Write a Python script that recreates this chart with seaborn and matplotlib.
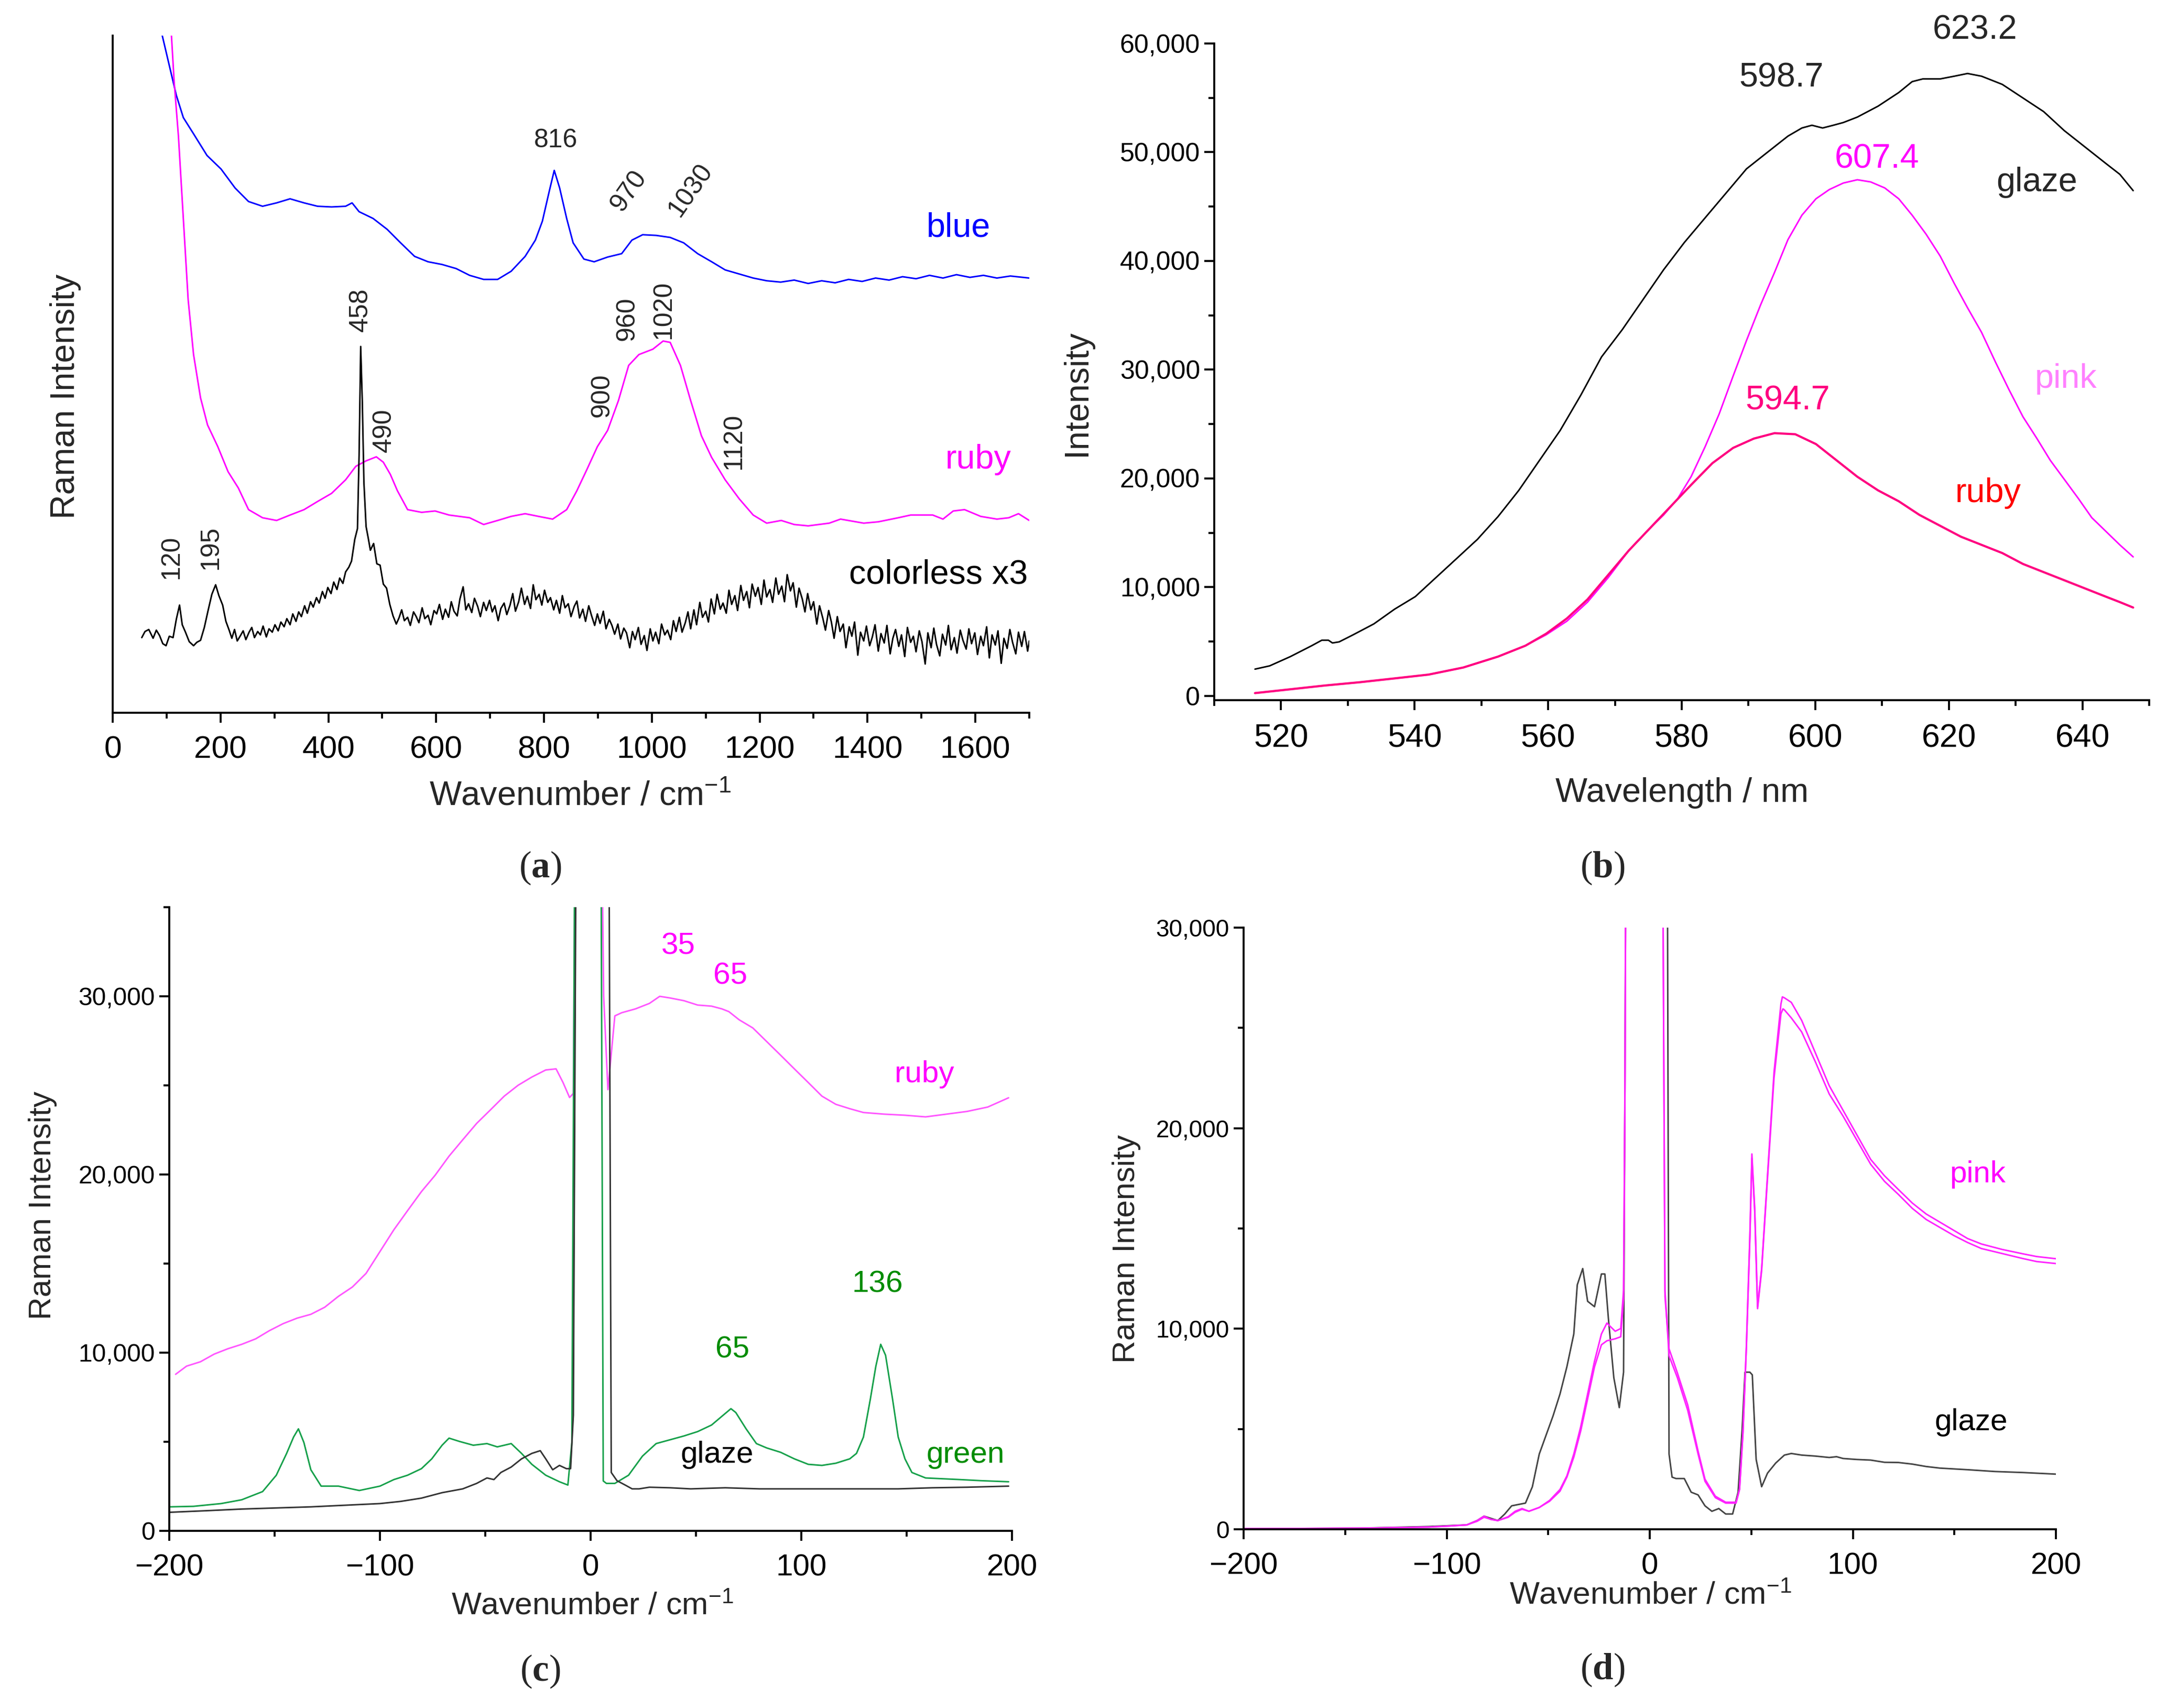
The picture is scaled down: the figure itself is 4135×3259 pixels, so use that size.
import numpy as np
import matplotlib
matplotlib.use("Agg")
import matplotlib.pyplot as plt
from matplotlib.ticker import MultipleLocator, FuncFormatter
import seaborn as sns

sns.set_theme(style="ticks")
plt.rcParams['font.family'] = ['Liberation Sans', 'DejaVu Sans']
plt.rcParams['mathtext.fontset'] = 'custom'
plt.rcParams['mathtext.rm'] = 'Liberation Sans'
plt.rcParams['mathtext.it'] = 'Liberation Sans:italic'
plt.rcParams['mathtext.bf'] = 'Liberation Serif:bold'

# ---------------- data: panel (a) Raman spectra (arbitrary units) ----------------
a_blue = [(86, 104), (92, 100), (105, 95.6), (118, 91.2), (131, 87.9), (150, 85.5), (175, 82.3),
          (201, 80.3), (227, 77.5), (252, 75.5), (278, 74.8), (304, 75.3), (329, 75.9), (355, 75.3),
          (380, 74.8), (406, 74.7), (432, 74.8), (444, 75.3), (457, 74.0), (483, 73.0), (509, 71.4),
          (534, 69.4), (560, 67.4), (585, 66.6), (611, 66.2), (637, 65.6), (662, 64.6), (688, 64.0),
          (714, 64.0), (739, 65.2), (765, 67.4), (784, 69.8), (797, 72.6), (810, 77.1), (819, 80.1),
          (829, 77.5), (842, 73.0), (854, 69.4), (874, 67.0), (893, 66.6), (918, 67.3), (944, 67.8),
          (963, 69.8), (983, 70.6), (1008, 70.5), (1034, 70.2), (1059, 69.4), (1085, 67.8),
          (1111, 66.6), (1136, 65.4), (1162, 64.8), (1188, 64.2), (1213, 63.8), (1239, 63.6),
          (1264, 63.9), (1290, 63.4), (1315, 63.8), (1340, 63.5), (1365, 64.0), (1390, 63.7),
          (1415, 64.2), (1440, 63.9), (1465, 64.4), (1490, 64.1), (1515, 64.6), (1540, 64.2),
          (1565, 64.7), (1590, 64.3), (1615, 64.6), (1640, 64.2), (1665, 64.5), (1700, 64.2)]

a_ruby = [(107, 104), (109, 100), (114, 93.2), (122, 85.1), (131, 73.0), (140, 61.0), (150, 52.9),
          (163, 46.5), (176, 42.5), (195, 39.3), (214, 35.6), (233, 33.2), (252, 30.0), (278, 28.8),
          (304, 28.4), (329, 29.2), (355, 30.0), (380, 31.2), (406, 32.4), (432, 34.4), (451, 36.4),
          (470, 37.2), (489, 37.8), (502, 37.0), (515, 35.2), (528, 32.8), (547, 30.0), (573, 29.6),
          (598, 29.8), (624, 29.2), (662, 28.8), (688, 27.8), (714, 28.4), (739, 29.0), (765, 29.4),
          (790, 29.0), (816, 28.6), (842, 30.0), (861, 32.8), (880, 36.0), (899, 39.3), (918, 41.7),
          (938, 46.1), (957, 51.3), (976, 52.9), (1002, 53.7), (1021, 54.9), (1034, 54.7),
          (1053, 51.3), (1072, 46.1), (1092, 40.9), (1111, 37.7), (1136, 34.4), (1162, 31.6),
          (1188, 29.2), (1213, 28.0), (1240, 28.4), (1264, 27.8), (1290, 27.6), (1329, 28.0),
          (1350, 28.6), (1393, 28.0), (1420, 28.2), (1457, 28.8), (1480, 29.2), (1521, 29.2),
          (1540, 28.6), (1559, 29.8), (1580, 30.0), (1610, 29.0), (1640, 28.6), (1662, 28.8),
          (1680, 29.4), (1700, 28.4)]

a_colorless = [(54, 11.1), (60, 12.0), (67, 12.3), (75, 11.0), (81, 12.2), (87, 11.4), (93, 10.2),
               (99, 9.9), (105, 11.3), (112, 11.1), (118, 13.8), (124, 15.9), (129, 13.0), (135, 11.9),
               (142, 10.5), (150, 9.9), (156, 10.4), (163, 10.7), (170, 12.6), (177, 15.1), (184, 17.5),
               (191, 18.9), (197, 17.3), (204, 15.9), (210, 13.5), (216, 12.2), (221, 11.0), (226, 12.3),
               (231, 10.6), (237, 11.4), (242, 12.1), (247, 10.8), (253, 11.9), (258, 12.6), (263, 11.1),
               (269, 12.0), (274, 11.5), (279, 12.8), (285, 11.2), (290, 12.4), (296, 11.9), (301, 13.0),
               (307, 12.1), (312, 13.4), (318, 12.7), (323, 13.9), (329, 13.0), (334, 14.6), (340, 13.5),
               (345, 14.9), (350, 14.2), (356, 15.8), (361, 14.7), (367, 16.4), (372, 15.6), (378, 17.0),
               (383, 16.2), (389, 17.9), (394, 16.9), (399, 18.5), (405, 17.6), (410, 19.3), (416, 18.2),
               (421, 19.9), (427, 19.1), (432, 20.8), (438, 21.5), (443, 22.4), (449, 25.6), (454, 27.2),
               (457, 38.0), (460, 54.1), (463, 46.0), (466, 34.0), (470, 27.5), (474, 25.8), (478, 24.0),
               (484, 25.0), (490, 22.0), (496, 21.8), (502, 19.0), (508, 18.4), (514, 16.0), (520, 14.3),
               (526, 13.1), (531, 14.0), (536, 15.2), (541, 13.6), (547, 14.1), (552, 12.9), (558, 14.9),
               (563, 14.2), (568, 13.3), (574, 15.5), (579, 13.9), (585, 14.4), (590, 13.0), (596, 15.1),
               (601, 14.6), (606, 16.0), (612, 13.8), (617, 15.3), (623, 14.1), (628, 16.4), (633, 15.0),
               (639, 14.3), (644, 16.8), (650, 18.6), (655, 15.2), (660, 16.1), (666, 14.8), (671, 16.9),
               (677, 15.7), (682, 14.2), (688, 16.3), (693, 15.1), (699, 16.6), (704, 14.9), (709, 15.8),
               (715, 13.6), (720, 15.4), (726, 16.2), (731, 14.5), (737, 15.9), (742, 17.6), (747, 15.0),
               (753, 16.4), (758, 18.4), (764, 16.0), (769, 17.2), (775, 15.4), (780, 18.9), (785, 16.7),
               (791, 17.5), (796, 15.9), (801, 18.1), (807, 16.3), (812, 17.0), (818, 15.2), (823, 16.6),
               (829, 14.7), (834, 17.3), (839, 15.5), (845, 16.1), (850, 14.2), (856, 15.7), (861, 16.5),
               (866, 14.0), (872, 15.3), (877, 13.5), (883, 15.8), (888, 14.4), (894, 12.9), (899, 14.6),
               (904, 13.2), (910, 15.0), (915, 12.4), (921, 13.8), (926, 12.9), (931, 11.6), (937, 13.1),
               (942, 10.9), (948, 12.5), (953, 11.8), (959, 9.6), (964, 12.0), (969, 10.8), (975, 12.6),
               (980, 10.1), (986, 11.4), (991, 9.2), (997, 12.4), (1002, 10.6), (1007, 11.9),
               (1013, 10.2), (1018, 13.1), (1024, 11.5), (1029, 12.2), (1035, 10.8), (1040, 13.6),
               (1045, 12.0), (1051, 14.1), (1056, 11.9), (1062, 13.3), (1067, 14.9), (1072, 12.4),
               (1078, 15.2), (1083, 13.0), (1089, 16.3), (1094, 14.1), (1100, 15.0), (1105, 13.4),
               (1110, 16.8), (1116, 14.6), (1121, 17.5), (1127, 15.3), (1132, 16.2), (1138, 14.7),
               (1143, 18.1), (1148, 16.0), (1154, 17.3), (1159, 15.1), (1165, 18.8), (1170, 16.6),
               (1176, 17.9), (1181, 15.5), (1186, 19.0), (1192, 17.2), (1197, 18.5), (1203, 16.0),
               (1208, 19.6), (1213, 17.1), (1219, 18.2), (1224, 16.3), (1230, 19.9), (1235, 17.5),
               (1241, 18.7), (1246, 16.4), (1251, 20.4), (1257, 18.0), (1262, 19.2), (1268, 15.6),
               (1273, 18.4), (1279, 16.8), (1284, 14.9), (1289, 17.6), (1295, 15.2), (1300, 16.4),
               (1306, 13.1), (1311, 15.8), (1317, 14.0), (1322, 12.2), (1328, 15.1), (1333, 13.4),
               (1338, 11.0), (1344, 14.2), (1349, 12.0), (1355, 13.1), (1360, 9.6), (1366, 12.7),
               (1371, 11.3), (1376, 13.4), (1382, 8.5), (1387, 11.9), (1393, 10.6), (1398, 12.8),
               (1404, 9.9), (1409, 11.2), (1414, 13.0), (1420, 9.1), (1425, 11.7), (1431, 10.3),
               (1436, 12.9), (1442, 8.7), (1447, 11.0), (1452, 12.3), (1458, 9.8), (1463, 11.5),
               (1469, 8.3), (1474, 12.6), (1480, 10.4), (1485, 11.3), (1490, 9.0), (1496, 12.1),
               (1501, 10.5), (1507, 7.2), (1512, 11.8), (1518, 9.6), (1523, 12.5), (1528, 10.1),
               (1534, 8.4), (1539, 11.6), (1545, 10.0), (1550, 12.9), (1555, 9.3), (1561, 11.1),
               (1566, 8.8), (1572, 12.2), (1577, 10.7), (1583, 9.4), (1588, 12.4), (1593, 10.2),
               (1599, 11.8), (1604, 8.6), (1610, 11.3), (1615, 9.9), (1621, 12.7), (1626, 8.1),
               (1631, 11.5), (1637, 10.0), (1642, 12.1), (1648, 7.3), (1653, 11.0), (1659, 9.5),
               (1664, 12.3), (1669, 10.4), (1675, 8.7), (1680, 11.9), (1686, 9.8), (1691, 12.0),
               (1697, 9.1), (1700, 10.6)]

# ---------------- data: panel (b) luminescence ----------------
b_glaze = [(516.1, 2456), (518.3, 2757), (521.4, 3609), (524.6, 4612), (526.1, 5113), (527.1, 5113),
           (527.7, 4862), (528.7, 4962), (530.8, 5614), (533.9, 6617), (537.0, 7970), (540.1, 9123),
           (543.2, 10877), (546.3, 12632), (549.4, 14386), (552.5, 16491), (555.6, 18897),
           (558.7, 21654), (561.8, 24411), (564.9, 27669), (568.0, 31178), (571.1, 33684),
           (574.2, 36441), (577.3, 39198), (580.4, 41704), (583.5, 43960), (586.6, 46215),
           (589.7, 48471), (592.8, 49975), (595.9, 51478), (598.0, 52230), (599.5, 52481),
           (601.1, 52230), (602.7, 52481), (604.2, 52732), (606.3, 53233), (609.4, 54235),
           (612.5, 55488), (614.5, 56491), (616.1, 56742), (618.7, 56742), (620.8, 56992),
           (622.8, 57243), (624.9, 56992), (628.0, 56240), (631.1, 54987), (634.2, 53734),
           (637.3, 51980), (640.4, 50476), (643.5, 48972), (645.6, 47970), (647.6, 46466)]

b_pink = [(516.1, 251), (521.4, 602), (526.6, 952), (531.8, 1253), (537.0, 1604), (542.1, 1955),
          (547.3, 2607), (552.5, 3609), (556.6, 4612), (559.7, 5614), (562.8, 6867), (565.9, 8622),
          (569.0, 10877), (572.1, 13383), (575.2, 15388), (577.3, 16641), (579.4, 18145),
          (581.4, 20150), (583.5, 22907), (585.6, 25915), (587.7, 29423), (589.7, 32682),
          (591.8, 35940), (593.9, 38947), (595.9, 41955), (598.0, 44210), (600.1, 45714),
          (602.1, 46566), (604.2, 47168), (606.3, 47468), (608.3, 47268), (610.4, 46717),
          (612.5, 45714), (614.5, 44210), (616.6, 42456), (618.7, 40451), (620.8, 37945),
          (622.8, 35689), (624.9, 33433), (627.0, 30677), (629.0, 28170), (631.1, 25664),
          (633.2, 23659), (635.2, 21654), (637.3, 19900), (639.4, 18145), (641.4, 16391),
          (643.5, 15138), (645.6, 13885), (647.6, 12782)]

b_ruby = [(516.1, 251), (521.4, 602), (526.6, 952), (531.8, 1253), (537.0, 1604), (542.1, 1955),
          (547.3, 2607), (552.5, 3609), (556.6, 4612), (559.7, 5714), (562.8, 7118), (565.9, 8872),
          (569.0, 11128), (572.1, 13383), (575.2, 15388), (578.3, 17393), (581.4, 19398),
          (584.6, 21403), (587.7, 22807), (590.8, 23659), (593.9, 24160), (597.0, 24060),
          (600.1, 23158), (603.2, 21654), (606.3, 20150), (609.4, 18897), (612.5, 17895),
          (615.6, 16641), (618.7, 15639), (621.8, 14637), (624.9, 13885), (628.0, 13133),
          (631.1, 12130), (634.2, 11378), (637.3, 10627), (640.4, 9875), (643.5, 9123),
          (645.6, 8622), (647.6, 8120)]

# ---------------- data: panel (c) low-wavenumber Raman ----------------
c_ruby = [(-197, 8785), (-191.8, 9244), (-185.2, 9489), (-178.7, 9918), (-172.1, 10224),
          (-165.6, 10469), (-159, 10775), (-152.5, 11234), (-145.9, 11632), (-139.3, 11938),
          (-132.8, 12152), (-126.2, 12550), (-119.7, 13162), (-113.1, 13683), (-106.6, 14448),
          (-100, 15672), (-93.4, 16897), (-86.9, 17968), (-80.3, 19039), (-73.8, 19958),
          (-67.2, 21029), (-60.7, 21947), (-54.1, 22866), (-47.5, 23631), (-41, 24396),
          (-34.4, 25008), (-27.9, 25468), (-21.3, 25865), (-16.4, 25927), (-13.1, 25161),
          (-10.0, 24320), (-8.2, 24549), (-7.3, 40000), (5.2, 40000), (6.2, 30000), (8.2, 24760),
          (9.5, 26386), (11.5, 28900), (14.8, 29080), (21.3, 29294), (27.9, 29600), (32.8, 29998),
          (37.7, 29906), (44.3, 29753), (50.8, 29508), (57.4, 29447), (62.3, 29294), (65.6, 29141),
          (70.5, 28682), (77, 28222), (83.6, 27457), (90.2, 26692), (96.7, 25927), (103.3, 25161),
          (109.8, 24396), (116.4, 23937), (123, 23692), (129.5, 23478), (139.3, 23386),
          (149.2, 23325), (159, 23233), (168.9, 23386), (178.7, 23539), (188.5, 23784),
          (198.4, 24304)]

c_green = [(-200, 1347), (-188.5, 1377), (-175.4, 1531), (-165.6, 1745), (-155.7, 2204),
           (-149.2, 3122), (-144.3, 4347), (-141, 5265), (-138.7, 5724), (-136.1, 4959),
           (-132.8, 3428), (-127.9, 2510), (-119.7, 2510), (-109.8, 2265), (-100, 2510),
           (-93.4, 2877), (-86.9, 3122), (-80.3, 3490), (-75.4, 4041), (-70.5, 4806), (-67.2, 5204),
           (-62.3, 5020), (-55.7, 4806), (-49.2, 4898), (-44.3, 4714), (-37.7, 4898), (-32.8, 4347),
           (-27.9, 3734), (-21.3, 3122), (-14.8, 2755), (-10.8, 2571), (-8.9, 4959), (-7.5, 40000),
           (4.9, 40000), (6.0, 2800), (7.5, 2663), (11.5, 2663), (18, 3122), (24.6, 4194),
           (31.1, 4898), (37.7, 5112), (44.3, 5326), (50.8, 5571), (57.4, 5938), (62.3, 6428),
           (66.6, 6857), (68.9, 6642), (73.8, 5724), (78.7, 4898), (83.6, 4653), (90.2, 4408),
           (96.7, 4041), (103.3, 3734), (109.8, 3673), (116.4, 3796), (123, 4041), (126.2, 4347),
           (129.5, 5265), (132.8, 7408), (135.4, 9244), (137.7, 10469), (140, 9856), (143.3, 7408),
           (146, 5265), (149.2, 4041), (152.5, 3275), (159, 2969), (175.4, 2877), (185.2, 2816),
           (198.4, 2755)]

c_glaze = [(-200, 1041), (-182, 1133), (-165.6, 1224), (-149.2, 1286), (-132.8, 1347),
           (-116.4, 1439), (-100, 1531), (-90.2, 1653), (-80.3, 1837), (-70.5, 2143), (-60.7, 2357),
           (-54.1, 2663), (-49.2, 2969), (-45.9, 2877), (-42.6, 3275), (-37.7, 3581), (-32.8, 4041),
           (-27.9, 4347), (-23.9, 4500), (-21.3, 4041), (-18, 3428), (-14.8, 3673), (-11.5, 3490),
           (-9.5, 3490), (-8.2, 6489), (-6.9, 40000), (8.7, 40000), (9.8, 3275), (12.5, 2816),
           (16.4, 2571), (19.7, 2357), (23, 2357), (27.9, 2449), (37.7, 2418), (47.5, 2357),
           (63.9, 2418), (80.3, 2357), (96.7, 2357), (113.1, 2357), (129.5, 2357), (145.9, 2357),
           (162.3, 2418), (178.7, 2449), (198.4, 2510)]

# ---------------- data: panel (d) low-wavenumber Raman ----------------
d_pink1 = [(-200, 27), (-142.9, 54), (-108.8, 109), (-98.6, 163), (-90.1, 218), (-85, 435),
           (-81.6, 653), (-78.2, 490), (-74.8, 435), (-69.7, 626), (-66.3, 898), (-62.9, 1034),
           (-59.5, 898), (-54.4, 1088), (-49.3, 1442), (-44.2, 1986), (-40.8, 2666), (-37.4, 3754),
           (-34, 5114), (-30.6, 6746), (-27.2, 8378), (-23.8, 9738), (-21.1, 10282), (-17, 9874),
           (-14.3, 10010), (-12.9, 11914), (-12.2, 22000), (-11.6, 40000), (6.1, 40000),
           (7.5, 11914), (9.5, 8650), (13.6, 7562), (18.7, 5930), (23.8, 3754), (27.2, 2394),
           (32.3, 1578), (37.4, 1306), (42.5, 1306), (44.2, 1986), (45.9, 4842), (47.6, 9194),
           (49.3, 14634), (50.3, 18714), (51.7, 16000), (53.1, 11098), (55.1, 13002), (57.8, 17354),
           (61.2, 22794), (64.6, 26194), (65.3, 26547), (66.3, 26500), (69.7, 26275), (74.8, 25378),
           (81.6, 23746), (88.4, 22114), (95.2, 20890), (102, 19666), (108.8, 18442),
           (115.6, 17626), (122.4, 16946), (129.3, 16266), (136.1, 15722), (142.9, 15314),
           (149.7, 14906), (156.5, 14498), (163.3, 14226), (173.5, 13954), (183.7, 13736),
           (190.5, 13600), (200, 13491)]

d_pink2 = [(-200, 27), (-142.9, 54), (-108.8, 109), (-98.6, 163), (-90.1, 218), (-85, 400),
           (-81.6, 600), (-78.2, 500), (-74.8, 435), (-69.7, 600), (-66.3, 850), (-62.9, 1000),
           (-59.5, 900), (-54.4, 1088), (-49.3, 1400), (-44.2, 1900), (-40.8, 2600), (-37.4, 3600),
           (-34, 4900), (-30.6, 6500), (-27.2, 8100), (-23.8, 9200), (-21.1, 9400), (-17, 9500),
           (-14.3, 9600), (-12.9, 11500), (-12.2, 22000), (-11.6, 40000), (6.1, 40000),
           (7.5, 11600), (9.5, 9000), (13.6, 7800), (18.7, 6200), (23.8, 3900), (27.2, 2500),
           (32.3, 1650), (37.4, 1350), (42.5, 1350), (44.2, 2000), (45.9, 4800), (47.6, 9100),
           (49.3, 14500), (50.3, 18500), (51.7, 15800), (53.1, 11000), (55.1, 12900), (57.8, 17200),
           (61.2, 22500), (64.6, 25700), (65.6, 25950), (66.3, 25900), (69.7, 25500), (74.8, 24800),
           (81.6, 23300), (88.4, 21700), (95.2, 20600), (102, 19400), (108.8, 18200),
           (115.6, 17350), (122.4, 16700), (129.3, 16000), (136.1, 15450), (142.9, 15050),
           (149.7, 14650), (156.5, 14300), (163.3, 14000), (173.5, 13750), (183.7, 13500),
           (190.5, 13350), (200, 13250)]

d_glaze = [(-200, 27), (-142.9, 54), (-108.8, 136), (-90.1, 218), (-85, 435), (-81.6, 653),
           (-78.2, 544), (-74.8, 435), (-71.4, 762), (-68, 1170), (-61.2, 1306), (-57.8, 2122),
           (-54.4, 3754), (-51, 4706), (-47.6, 5658), (-44.2, 6746), (-40.8, 8106), (-37.4, 9738),
           (-35.7, 12186), (-33, 13002), (-30.6, 11370), (-27.2, 11098), (-23.8, 12730),
           (-22.1, 12730), (-20.4, 10554), (-17.7, 7562), (-15, 6066), (-12.9, 7834),
           (-12.2, 22794), (-11.6, 40000), (8.5, 40000), (9.5, 3754), (11, 2600), (12.9, 2530),
           (17, 2530), (20.4, 1850), (23.8, 1714), (27.2, 1170), (30.6, 898), (34, 1034),
           (37.4, 762), (40.8, 762), (43.5, 1850), (45.5, 5000), (46.9, 7834), (49.3, 7834),
           (50.5, 7700), (52.4, 3482), (55.1, 2122), (58, 2800), (62, 3300), (66.3, 3700),
           (69.7, 3780), (74.8, 3700), (81.6, 3650), (88.4, 3580), (92, 3620), (95.2, 3530),
           (102, 3480), (108.8, 3450), (115.6, 3340), (122.4, 3330), (129.3, 3250), (136.1, 3130),
           (142.9, 3050), (156.5, 2970), (170, 2880), (183.7, 2830), (200, 2750)]

# tick values
a_xticks = [0, 200, 400, 600, 800, 1000, 1200, 1400, 1600]
b_xticks = [520, 540, 560, 580, 600, 620, 640]
b_yticks = [0, 10000, 20000, 30000, 40000, 50000, 60000]
c_xticks = [-200, -100, 0, 100, 200]
c_yticks = [0, 10000, 20000, 30000]
d_yticks = [0, 10000, 20000, 30000]

# ---------------- figure ----------------
W, H = 4135, 3259
fig = plt.figure(figsize=(W / 300, H / 300), dpi=300)
fig.patch.set_facecolor('white')


def box(l, r, t, b):
    return [l / W, 1 - b / H, (r - l) / W, (b - t) / H]


def draw(ax, data, color, lw=0.7):
    x = np.array([p[0] for p in data], dtype=float)
    y = np.array([p[1] for p in data], dtype=float)
    sns.lineplot(x=x, y=y, ax=ax, color=color, linewidth=lw, estimator=None,
                 sort=False, legend=False)


def style(ax, xsize, ysize):
    for s in ['top', 'right']:
        ax.spines[s].set_visible(False)
    for s in ['left', 'bottom']:
        ax.spines[s].set_linewidth(0.9)
        ax.spines[s].set_color('black')
    ax.tick_params(which='major', direction='out', length=4.5, width=0.9, color='black',
                   labelcolor='black')
    ax.tick_params(which='minor', direction='out', length=2.6, width=0.9, color='black')
    ax.tick_params(axis='x', which='major', labelsize=xsize, pad=6)
    ax.tick_params(axis='y', which='major', labelsize=ysize, pad=2)
    ax.set_facecolor('white')
    ax.grid(False)


comma = FuncFormatter(lambda v, p: f"{int(round(v)):,}")

# ---- (a) ----
axa = fig.add_axes(box(215, 1964, 68, 1360))
draw(axa, a_blue, '#0000FF')
draw(axa, a_ruby, '#FF00FF')
draw(axa, a_colorless, 'black')
axa.set_xlim(0, 1700)
axa.set_ylim(0, 100)
style(axa, 14.5, 12)
axa.set_xticks(a_xticks)
axa.xaxis.set_minor_locator(MultipleLocator(100))
axa.set_yticks([])
axa.set_xlabel(r"Wavenumber / cm$^{-1}$", fontsize=15.5, va='center')
axa.xaxis.set_label_coords(0.51, -0.124)
axa.set_ylabel("Raman Intensity", fontsize=15.5, va='center')
axa.yaxis.set_label_coords(-0.0515, 0.467)
pk = 12
axa.text(822, 84.5, "816", fontsize=pk, ha='center', va='center')
axa.text(957, 77.1, "970", fontsize=pk, ha='center', va='center', rotation=55)
axa.text(1072, 77.2, "1030", fontsize=pk, ha='center', va='center', rotation=55)
axa.text(1569, 71.6, "blue", fontsize=15.5, color='#0000FF', ha='center', va='center')
axa.text(460, 59.5, "458", fontsize=pk, ha='center', va='center', rotation=90)
axa.text(503, 41.7, "490", fontsize=pk, ha='center', va='center', rotation=90)
axa.text(907, 46.9, "900", fontsize=pk, ha='center', va='center', rotation=90)
axa.text(954, 58.2, "960", fontsize=pk, ha='center', va='center', rotation=90)
axa.text(1022, 59.5, "1020", fontsize=pk, ha='center', va='center', rotation=90)
axa.text(1152, 40.1, "1120", fontsize=pk, ha='center', va='center', rotation=90)
axa.text(1605, 37.4, "ruby", fontsize=15.5, color='#FF00FF', ha='center', va='center')
axa.text(109, 23.0, "120", fontsize=pk, ha='center', va='center', rotation=90)
axa.text(182, 24.4, "195", fontsize=pk, ha='center', va='center', rotation=90)
axa.text(1531, 20.4, "colorless x3", fontsize=15.5, color='black', ha='center', va='center')

# ---- (b) ----
axb = fig.add_axes(box(2317, 4101, 83, 1336))
draw(axb, b_glaze, 'black', 0.7)
draw(axb, b_pink, '#FF00FF', 0.7)
draw(axb, b_ruby, '#FF0080', 1.0)
axb.set_xlim(510, 650)
axb.set_ylim(-400, 60000)
style(axb, 15, 12)
axb.set_xticks(b_xticks)
axb.xaxis.set_minor_locator(MultipleLocator(10))
axb.set_yticks(b_yticks)
axb.yaxis.set_minor_locator(MultipleLocator(5000))
axb.yaxis.set_major_formatter(comma)
axb.set_xlabel("Wavelength / nm", fontsize=15.5, va='center')
axb.xaxis.set_label_coords(0.5, -0.141)
axb.set_ylabel("Intensity", fontsize=15.5, va='center')
axb.yaxis.set_label_coords(-0.147, 0.468)
axb.text(623.9, 61253, "623.2", fontsize=15.5, ha='center', va='center')
axb.text(594.9, 56842, "598.7", fontsize=15.5, ha='center', va='center')
axb.text(609.2, 49373, "607.4", fontsize=15.5, color='#FF00FF', ha='center', va='center')
axb.text(633.2, 47218, "glaze", fontsize=15.5, ha='center', va='center')
axb.text(637.5, 29173, "pink", fontsize=15.5, color='#FF80FF', ha='center', va='center')
axb.text(595.9, 27168, "594.7", fontsize=15.5, color='#FF0080', ha='center', va='center')
axb.text(625.9, 18647, "ruby", fontsize=15.5, color='#FF0000', ha='center', va='center')

# ---- (c) ----
axc = fig.add_axes(box(323, 1931, 1731, 2921))
draw(axc, c_ruby, '#FF55FF', 0.7)
draw(axc, c_green, '#16A04A', 0.7)
draw(axc, c_glaze, '#333333', 0.7)
axc.set_xlim(-200, 200)
axc.set_ylim(0, 35000)
style(axc, 14, 11.5)
axc.set_xticks(c_xticks)
axc.xaxis.set_minor_locator(MultipleLocator(50))
axc.set_yticks(c_yticks)
axc.yaxis.set_minor_locator(MultipleLocator(5000))
axc.yaxis.set_major_formatter(comma)
axc.set_xlabel(r"Wavenumber / cm$^{-1}$", fontsize=14.5, va='center')
axc.xaxis.set_label_coords(0.502, -0.122)
axc.set_ylabel("Raman Intensity", fontsize=14.5, va='center')
axc.yaxis.set_label_coords(-0.150, 0.522)
axc.text(41.6, 32814, "35", fontsize=14, color='#FF00FF', ha='center', va='center')
axc.text(66.2, 31130, "65", fontsize=14, color='#FF00FF', ha='center', va='center')
axc.text(158.4, 25621, "ruby", fontsize=14, color='#FF00FF', ha='center', va='center')
axc.text(136.1, 13836, "136", fontsize=14, color='#008C00', ha='center', va='center')
axc.text(67.2, 10163, "65", fontsize=14, color='#008C00', ha='center', va='center')
axc.text(60, 4255, "glaze", fontsize=14, color='black', ha='center', va='center')
axc.text(178, 4255, "green", fontsize=14, color='#008C00', ha='center', va='center')

# ---- (d) ----
axd = fig.add_axes(box(2373, 3923, 1770, 2918))
draw(axd, d_glaze, '#444444', 0.7)
draw(axd, d_pink1, '#FF22FF', 0.7)
draw(axd, d_pink2, '#FF22FF', 0.7)
axd.set_xlim(-200, 200)
axd.set_ylim(0, 30000)
style(axd, 14, 11)
axd.set_xticks(c_xticks)
axd.xaxis.set_minor_locator(MultipleLocator(50))
axd.set_yticks(d_yticks)
axd.yaxis.set_minor_locator(MultipleLocator(5000))
axd.yaxis.set_major_formatter(comma)
axd.set_xlabel(r"Wavenumber / cm$^{-1}$", fontsize=14.5, va='center')
axd.xaxis.set_label_coords(0.501, -0.111)
axd.set_ylabel("Raman Intensity", fontsize=14.5, va='center')
axd.yaxis.set_label_coords(-0.1445, 0.466)
axd.text(161.6, 17680, "pink", fontsize=14, color='#FF00FF', ha='center', va='center')
axd.text(158.2, 5331, "glaze", fontsize=14, color='black', ha='center', va='center')

# ---- captions ----
for lab, (cx, cy) in zip(['a', 'b', 'c', 'd'],
                         [(1031, 1656), (3058, 1656), (1031, 3189), (3058, 3186)]):
    fig.text(cx / W, 1 - cy / H, "(" + r"$\mathbf{" + lab + "}$" + ")",
             family='Liberation Serif', fontsize=17, ha='center', va='center')

fig.savefig("out.png", dpi=300, facecolor='white')
